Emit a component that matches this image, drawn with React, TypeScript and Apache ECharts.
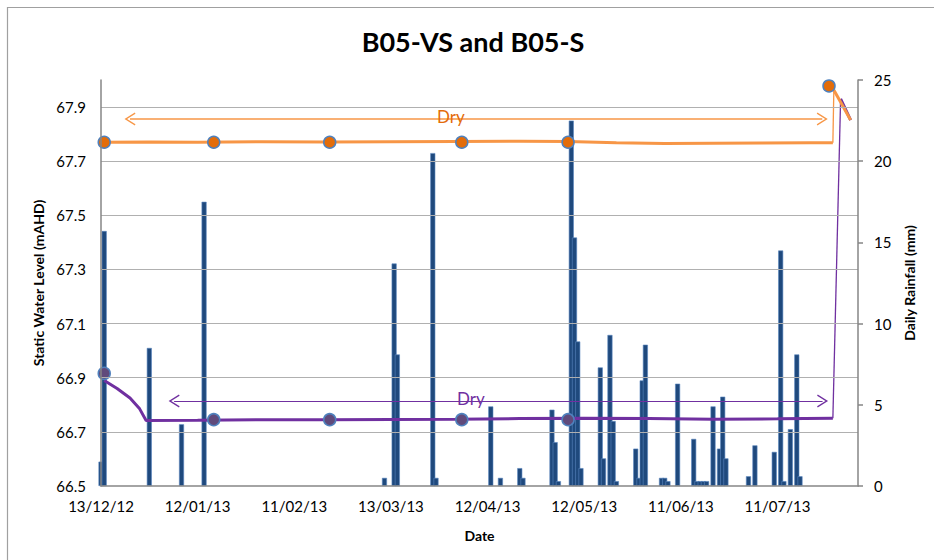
import React, { useEffect, useRef } from 'react';
import * as echarts from 'echarts';

// ---- Data (x values are days after 13/12/12) ----
const START_UTC = Date.UTC(2012, 11, 13);
const DAY_MS = 86400000;
const LEVEL_BASE = 66.5; // bottom of the water-level axis

// Daily rainfall (mm)
const rainDays = [0, 1, 15, 25, 32, 88, 91, 92, 103, 104, 121, 124, 130, 131, 140, 141, 142, 146, 147, 148, 149, 155, 156, 158, 159, 160, 166, 167, 168, 169, 174, 175, 176, 179, 184, 185, 186, 187, 188, 190, 192, 193, 194, 201, 203, 209, 211, 212, 214, 216, 217];
const rainMm = [1.5, 15.7, 8.5, 3.8, 17.5, 0.5, 13.7, 8.1, 20.5, 0.5, 4.9, 0.5, 1.1, 0.5, 4.7, 2.7, 0.3, 22.5, 15.3, 8.9, 1.1, 7.3, 1.7, 9.3, 4.0, 0.3, 2.3, 0.5, 6.5, 8.7, 0.5, 0.5, 0.3, 6.3, 2.9, 0.3, 0.3, 0.3, 0.3, 4.9, 2.3, 5.5, 1.7, 0.6, 2.5, 2.1, 14.5, 0.3, 3.5, 8.1, 0.6];

// B05-VS logger (mAHD)
const vsDays = [1, 15, 30, 50, 70, 90, 110, 130, 145, 160, 175, 190, 205, 220, 227.2, 227.5, 232.7];
const vsLevel = [67.770, 67.771, 67.770, 67.772, 67.771, 67.772, 67.773, 67.774, 67.773, 67.768, 67.765, 67.766, 67.767, 67.768, 67.768, 67.963, 67.852];
const vsJumpIndex = 14; // last logger point before the jump

// B05-S logger (mAHD)
const sDays = [1, 5, 9, 12, 14, 30, 50, 70, 90, 110, 130, 150, 170, 190, 210, 227.2, 229.6, 232.7];
const sLevel = [66.89, 66.86, 66.825, 66.785, 66.742, 66.743, 66.745, 66.745, 66.746, 66.747, 66.749, 66.750, 66.749, 66.747, 66.748, 66.750, 67.93, 67.852];
const sJumpIndex = 15;

// Manual readings
const vsManualDays = [1, 35, 71, 112, 145, 226];
const vsManual = [67.77, 67.77, 67.77, 67.77, 67.77, 67.978];
const sManualDays = [1, 35, 71, 112, 145];
const sManual = [66.916, 66.745, 66.745, 66.745, 66.745];

// "Dry" periods: [start day, end day, level of arrow, label day]
const vsDry = [7.3, 225.6, 67.856, 108.6];
const sDry = [21.0, 225.7, 66.814, 114.8];

const X_MAX = 235;
const X_INTERVAL = 30;

const ORANGE_LINE = '#F79646';
const ORANGE_DARK = '#E36C09';
const PURPLE = '#7030A0';
const PURPLE_MARK = '#604A7B';
const MARK_BORDER = '#4F81BD';
const BAR = '#1F497D';
const GRID = '#b0b0b0';
const FONT = 'Lato';

const fmtDate = (v: number) => {
  const d = new Date(START_UTC + v * DAY_MS);
  const p = (n: number) => String(n).padStart(2, '0');
  return `${p(d.getUTCDate())}/${p(d.getUTCMonth() + 1)}/${p(d.getUTCFullYear() % 100)}`;
};

const chevron = 'path://M0,10 L6,0 L12,10 L10.89,10.66 L6,2.51 L1.11,10.66 Z';
const ARROW_HALF_DAYS = 1.7; // arrow head is centred on the end point

const dryArrow = (dry: number[], color: string, width: number, textColor: string) => ({
  markLine: {
    silent: true,
    animation: false,
    symbol: [chevron, chevron],
    symbolSize: [13, 11],
    lineStyle: { type: 'solid', color, width },
    label: { show: false },
    emphasis: { disabled: true },
    data: [[
      { coord: [dry[0] + ARROW_HALF_DAYS, dry[2] - LEVEL_BASE] },
      { coord: [dry[1] - ARROW_HALF_DAYS, dry[2] - LEVEL_BASE] },
    ]],
  },
  markPoint: {
    silent: true,
    animation: false,
    symbol: 'circle',
    symbolSize: 1,
    itemStyle: { color: 'rgba(0,0,0,0)' },
    label: { show: true, position: 'inside', formatter: 'Dry', color: textColor, fontSize: 17, fontFamily: FONT },
    data: [{ coord: [dry[3], dry[2] + 0.008 - LEVEL_BASE] }],
  },
});

const toPts = (days: number[], lv: number[]) => days.map((d, i) => [d, lv[i] - LEVEL_BASE]);

// logger line split into: before jump (thick), jump (thin), after jump (thick)
const loggerSeries = (name: string, days: number[], lv: number[], j: number, color: string, z: number) => {
  const pts = toPts(days, lv);
  const base = { type: 'line', yAxisIndex: 0, showSymbol: false, silent: true, z };
  return [
    { ...base, name, lineStyle: { color, width: 3 }, data: pts.slice(0, j + 1) },
    { ...base, name: name + ' jump', lineStyle: { color, width: 1.3 }, data: pts.slice(j, j + 2) },
    { ...base, name: name + ' end', lineStyle: { color, width: 3 }, data: pts.slice(j + 1) },
  ];
};

const axisText = { color: '#000', fontSize: 15, fontFamily: FONT };
const nameText = { color: '#000', fontSize: 14, fontWeight: 'bold', fontFamily: FONT };

export default function App() {
  const ref = useRef<HTMLDivElement>(null);
  useEffect(() => {
    if (!ref.current) return;
    const chart = echarts.init(ref.current, null, { renderer: 'svg' });
    const sLines = loggerSeries('B05-S', sDays, sLevel, sJumpIndex, PURPLE, 3);
    const vsLines = loggerSeries('B05-VS', vsDays, vsLevel, vsJumpIndex, ORANGE_LINE, 4);
    Object.assign(sLines[0], dryArrow(sDry, PURPLE, 1, PURPLE));
    Object.assign(vsLines[0], dryArrow(vsDry, ORANGE_LINE, 1.5, ORANGE_DARK));
    const option: any = {
      animation: false,
      backgroundColor: '#fff',
      graphic: [
        {
          type: 'rect', silent: true, z: -10,
          shape: { x: 7.5, y: 7.5, width: 1200, height: 1200 },
          style: { fill: 'none', stroke: '#a0a0a0', lineWidth: 1.2 },
        },
        {
          type: 'text', x: 473, y: 41, silent: true,
          style: {
            text: 'B05-VS and B05-S', fill: '#000',
            fontSize: 27, fontWeight: 'bold', fontFamily: FONT,
            textAlign: 'center', textVerticalAlign: 'middle', align: 'center', verticalAlign: 'middle',
          },
        },
      ],
      grid: { left: 101, right: 76, top: 80, bottom: 74, containLabel: false },
      xAxis: {
        type: 'value', min: 0, max: X_MAX, interval: X_INTERVAL,
        name: 'Date', nameLocation: 'middle', nameGap: 42, nameTextStyle: nameText,
        axisLine: { show: true, onZero: false, lineStyle: { color: '#868686', width: 1.5 } },
        axisTick: { show: false },
        splitLine: { show: false },
        axisLabel: { ...axisText, margin: 12, showMaxLabel: false, formatter: (v: number) => fmtDate(v) },
        z: 10,
      },
      yAxis: [
        {
          type: 'value', position: 'left', min: 0, max: 1.5, interval: 0.2,
          name: 'Static Water Level (mAHD)', nameLocation: 'middle', nameGap: 56, nameRotate: 90, nameTextStyle: nameText,
          axisLine: { show: true, lineStyle: { color: '#868686', width: 1.5 } },
          axisTick: { show: false },
          splitLine: { show: true, showMinLine: false, showMaxLine: false, lineStyle: { color: GRID, width: 1 } },
          axisLabel: { ...axisText, margin: 15, showMaxLabel: false, formatter: (v: number) => (v + LEVEL_BASE).toFixed(1) },
          z: 10,
        },
        {
          type: 'value', position: 'right', min: 0, max: 25, interval: 5,
          name: 'Daily Rainfall (mm)', nameLocation: 'middle', nameGap: 44, nameRotate: 90, nameTextStyle: nameText,
          axisLine: { show: true, lineStyle: { color: '#868686', width: 1.5 } },
          axisTick: { show: true, length: 5, lineStyle: { color: '#868686', width: 1.5 } },
          splitLine: { show: false },
          axisLabel: { ...axisText, margin: 16 },
          z: 10,
        },
      ],
      series: [
        {
          name: 'Daily Rainfall', type: 'bar', xAxisIndex: 0, yAxisIndex: 1, barWidth: 5,
          itemStyle: { color: BAR, borderColor: '#5B87C0', borderWidth: 0.6 },
          data: rainDays.map((d, i) => [d, rainMm[i]]),
          z: 1,
        },
        ...sLines,
        ...vsLines,
        {
          name: 'B05-S manual', type: 'scatter', yAxisIndex: 0, symbol: 'circle', symbolSize: 12, z: 5,
          itemStyle: { color: PURPLE_MARK, borderColor: MARK_BORDER, borderWidth: 1.5, opacity: 1 },
          data: toPts(sManualDays, sManual),
        },
        {
          name: 'B05-VS manual', type: 'scatter', yAxisIndex: 0, symbol: 'circle', symbolSize: 12, z: 6,
          itemStyle: { color: ORANGE_DARK, borderColor: MARK_BORDER, borderWidth: 1.5, opacity: 1 },
          data: toPts(vsManualDays, vsManual),
        },
      ],
    };
    chart.setOption(option);
    return () => chart.dispose();
  }, []);
  return (
    <div
      ref={ref}
      style={{ position: 'fixed', left: 0, top: 0, width: 934, height: 560, background: '#fff' }}
    />
  );
}
